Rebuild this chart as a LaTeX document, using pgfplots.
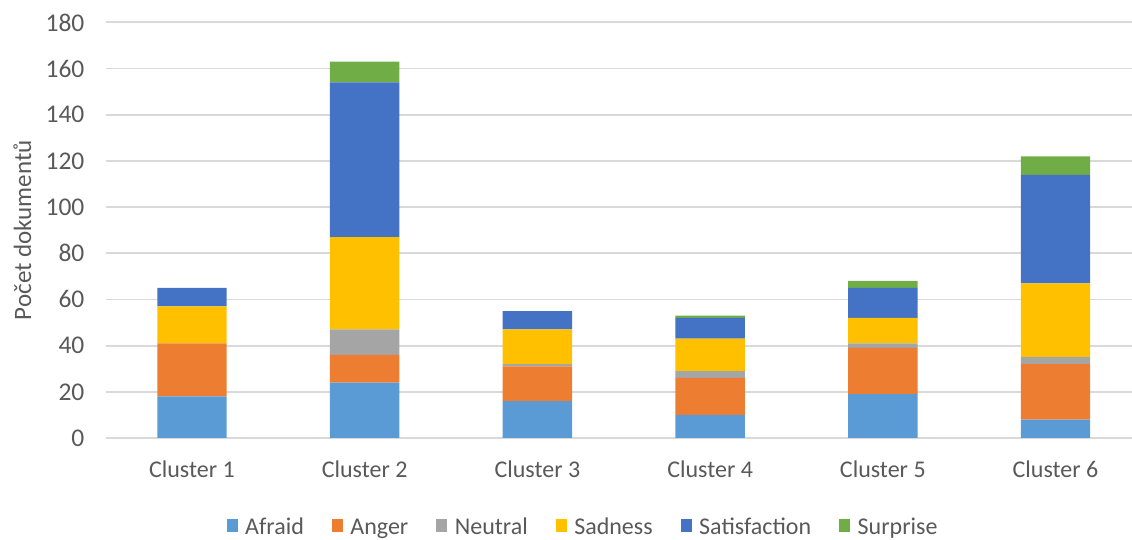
\documentclass[border=0pt]{standalone}
\usepackage{fontspec}
\setmainfont{Carlito}
\usepackage{pgfplots}
\pgfplotsset{compat=1.18}
\definecolor{cAfraid}{HTML}{5B9BD5}
\definecolor{cAnger}{HTML}{ED7D31}
\definecolor{cNeutral}{HTML}{A5A5A5}
\definecolor{cSadness}{HTML}{FFC000}
\definecolor{cSatis}{HTML}{4472C4}
\definecolor{cSurprise}{HTML}{70AD47}
\definecolor{txt}{HTML}{595959}
\definecolor{grid}{HTML}{D9D9D9}
\begin{document}
\begin{tikzpicture}
\useasboundingbox (-105.6pt,-101.7pt) rectangle (1026.4pt,438pt);
\begin{axis}[
  at={(0pt,0pt)}, anchor=south west,
  scale only axis,
  width=1026.4pt, height=415.6pt,
  ybar stacked,
  bar width=69.4pt,
  xmin=-0.5, xmax=5.443,
  ymin=0, ymax=180,
  ytick={0,20,...,180},
  xtick={0,1,2,3,4,5},
  xticklabels={Cluster 1,Cluster 2,Cluster 3,Cluster 4,Cluster 5,Cluster 6},
  ymajorgrids,
  grid style={draw=grid, line width=1.8pt},
  axis line style={draw=none},
  major tick length=0pt,
  tick style={draw=none},
  font=\fontsize{24}{28}\selectfont,
  /pgf/number format/assume math mode=true,
  tick label style={text=txt, font=\fontsize{24}{28}\selectfont},
  yticklabel style={anchor=east, inner sep=0pt, xshift=-21pt, font=\fontsize{25.5}{28}\selectfont},
  xticklabel style={anchor=base, inner sep=0pt, yshift=-39.3pt},
  ylabel={Počet dokumentů},
  ylabel style={at={(axis description cs:-0.0811,0.5)}, anchor=center, rotate=0, text=txt, font=\fontsize{25}{28}\selectfont},
  legend columns=6,
  legend cell align=left,
  legend style={draw=none, fill=none, inner sep=0pt, outer sep=0pt,
    at={(rel axis cs:0,0)}, anchor=north west, xshift=121.1pt, yshift=-78.7pt,
    font=\fontsize{24}{28}\selectfont, text=txt,
    nodes={inner sep=0pt, text height=18pt, text depth=1pt},
    /tikz/every odd column/.append style={column sep=7.5pt},
    /tikz/every even column/.append style={column sep=28pt}},
  legend image code/.code={\fill[#1] (0pt,-6pt) rectangle (11pt,7pt);},
]
\addplot[fill=cAfraid, draw=none] coordinates {(0,18) (1,24) (2,16) (3,10) (4,19) (5,8)};
\addplot[fill=cAnger, draw=none] coordinates {(0,23) (1,12) (2,15) (3,16) (4,20) (5,24)};
\addplot[fill=cNeutral, draw=none] coordinates {(0,0) (1,11) (2,1) (3,3) (4,2) (5,3)};
\addplot[fill=cSadness, draw=none] coordinates {(0,16) (1,40) (2,15) (3,14) (4,11) (5,32)};
\addplot[fill=cSatis, draw=none] coordinates {(0,8) (1,67) (2,8) (3,9) (4,13) (5,47)};
\addplot[fill=cSurprise, draw=none] coordinates {(0,0) (1,9) (2,0) (3,1) (4,3) (5,8)};
\legend{Afraid,Anger,Neutral,Sadness,Satisfaction,Surprise}
\end{axis}
\end{tikzpicture}
\end{document}
